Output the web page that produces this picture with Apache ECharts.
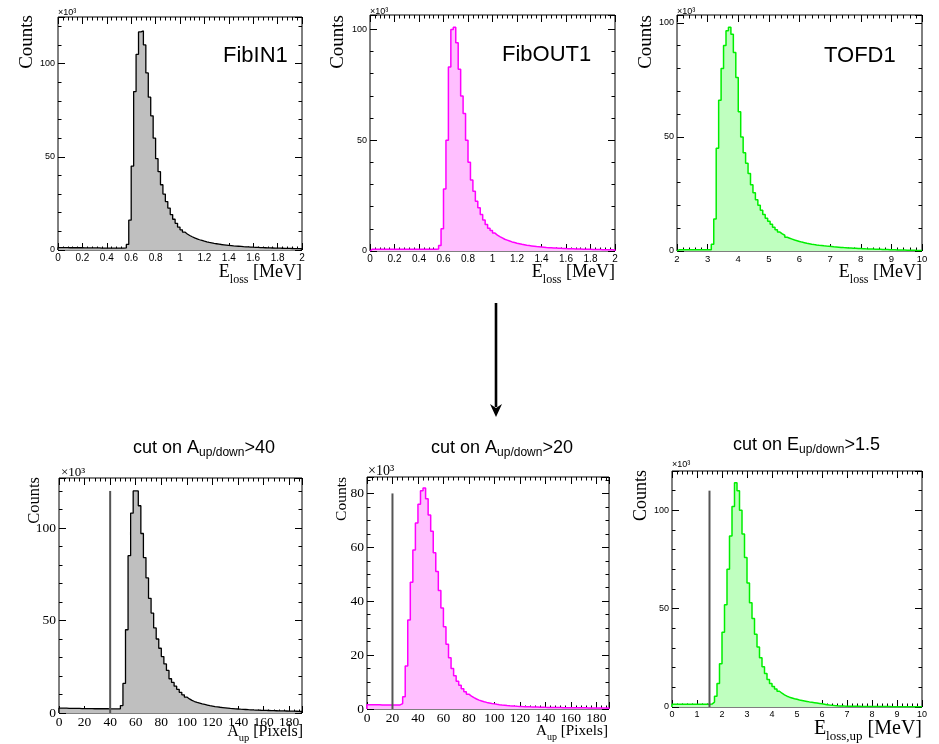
<!DOCTYPE html>
<html><head><meta charset="utf-8">
<script src="https://cdn.jsdelivr.net/npm/echarts@6/dist/echarts.min.js"></script>
<style>html,body{margin:0;padding:0;background:#fff}#c{width:939px;height:744px}</style>
</head><body><div id="c"></div>
<script>
// ---------------- DATA (counts in units of 10^3 per bin) ----------------
const fibInRange = [0, 2];
const fibInValues = [
 1.3,1.3,1.3,1.3,1.2,1.2,1.2,1.2,1.2,1.2,
 1.1,1.1,1.1,1.1,1.1,1.1,1.1,1.0,1.0,1.0,
 1.0,1.0,1.0,1.0,1.0,1.0,1.0,1.1,3,16,
 45,85,105,117,117.5,110,95,82,72,60,
 49,42,35,30,26,22.5,19,16.5,14.3,12.3,
 10.8,9.6,8.6,7.8,7.1,6.5,6.0,5.5,5.1,4.7,
 4.35,4.05,3.8,3.55,3.35,3.15,2.95,2.8,2.65,2.5,
 2.35,2.2,2.1,2.0,1.9,1.8,1.72,1.65,1.58,1.5,
 1.44,1.38,1.32,1.27,1.22,1.17,1.12,1.08,1.04,1.0,
 0.96,0.93,0.9,0.87,0.84,0.81,0.78,0.75,0.73,0.7];

const fibOutRange = [0, 2];
const fibOutValues = [
 0.8,0.8,0.8,0.8,0.8,0.8,0.8,0.8,0.8,0.8,
 0.8,0.8,0.8,0.8,0.8,0.8,0.8,0.8,0.8,0.8,
 0.8,0.8,0.8,0.8,0.8,0.8,0.8,0.9,2.5,10,
 28,50,83,100,101,94,82,70,62,50,
 40,32,27,22.5,19.5,16.5,14,12,10.3,9.2,
 8.1,7.2,6.5,5.9,5.3,4.9,4.5,4.1,3.8,3.5,
 3.25,3.0,2.8,2.6,2.45,2.3,2.15,2.0,1.9,1.8,
 1.7,1.6,1.52,1.45,1.38,1.32,1.26,1.2,1.15,1.1,
 1.06,1.02,0.98,0.94,0.9,0.87,0.84,0.81,0.78,0.75,
 0.72,0.69,0.66,0.63,0.6,0.58,0.56,0.54,0.52,0.5];

const tofdRange = [2, 10];
const tofdValues = [
 0.6,0.6,0.6,0.6,0.6,0.6,0.6,0.6,0.6,0.6,
 0.6,0.6,0.6,0.6,3,14,45,66,80,90,
 96.5,98,95,87,76,61,50,43,38.5,34,
 29,25.5,22.5,20,17.8,16,14.4,13,11.7,10.4,
 9.3,8.3,7.5,6.9,6.0,5.6,5.2,4.8,4.5,4.2,
 3.9,3.65,3.4,3.2,3.0,2.82,2.66,2.52,2.4,2.27,
 2.15,2.05,1.95,1.85,1.76,1.67,1.58,1.5,1.43,1.36,
 1.3,1.24,1.18,1.12,1.07,1.02,0.97,0.93,0.89,0.85,
 0.8,0.76,0.72,0.68,0.65,0.62,0.58,0.55,0.52,0.49,
 0.46,0.43,0.4,0.37,0.34,0.31,0.28,0.25,0.22,0.2];

const cutARange = [0, 190];
const cutAValues = [
 2.6,2.6,2.6,2.5,2.5,2.5,2.5,2.5,2.4,2.4,
 2.4,2.4,2.4,2.3,2.3,2.3,2.3,2.3,2.3,2.2,
 2.2,2.2,2.2,2.3,4,16,45,85,108,120,
 120,112,97,84,73,62,54,46,40,35,
 30.5,26.5,23,18.5,16.5,14.5,12.8,11.2,9.8,8.6,
 7.6,6.8,6.2,5.7,5.3,4.9,4.6,4.3,4.0,3.75,
 3.5,3.3,3.1,2.95,2.8,2.65,2.5,2.38,2.26,2.15,
 2.05,1.96,1.88,1.8,1.73,1.66,1.6,1.54,1.48,1.43,
 1.38,1.34,1.3,1.26,1.22,1.18,1.14,1.1,1.07,1.04,
 1.0,0.97,0.94,0.91,0.88];
const cutALine = [40, 120];

const cutBRange = [0, 190];
const cutBValues = [
 1.6,1.6,1.6,1.6,1.6,1.5,1.5,1.5,1.5,1.5,
 1.5,1.5,1.5,2,4.5,16,33,47,59,69,
 76,81,82,78,72,66,58,51,44,37.5,
 30.5,24,19,15,12.3,10.3,8.8,7.5,6.4,5.5,
 4.8,4.2,3.7,3.3,3.0,2.7,2.45,2.25,2.05,1.9,
 1.75,1.62,1.5,1.4,1.3,1.22,1.15,1.08,1.02,0.97,
 0.92,0.88,0.84,0.8,0.77,0.74,0.71,0.68,0.65,0.62,
 0.6,0.58,0.56,0.55,0.53,0.52,0.51,0.5,0.49,0.48,
 0.47,0.46,0.45,0.44,0.43,0.42,0.41,0.4,0.39,0.38,
 0.37,0.36,0.35,0.34,0.33];
const cutBLine = [20, 80];

const cutCRange = [0, 10];
const cutCValues = [
 1.4,1.4,1.4,1.4,1.4,1.4,1.4,1.4,1.4,1.4,
 1.4,1.4,1.4,1.4,1.4,1.5,2.5,5.5,12,22,
 38,52,70,87,102,114,110,100,88,76,
 63,53,45,37,30.5,25,20.5,17,14,12,
 10.4,9.1,8,7,6.2,5.5,5.0,4.6,4.2,3.9,
 3.6,3.35,3.1,2.85,2.6,2.4,2.2,2.0,1.8,1.6,
 1.4,1.2,1.0,0.85,0.72,0.62,0.55,0.5,0.46,0.43,
 0.4,0.38,0.36,0.34,0.32,0.3,0.29,0.28,0.27,0.26,
 0.25,0.24,0.23,0.22,0.21,0.2,0.2,0.19,0.19,0.18,
 0.18,0.17,0.17,0.16,0.16,0.15,0.15,0.15,0.14,0.14];
const cutCLine = [1.5, 110];

// ---------------- LAYOUT / STYLE ----------------
const SANS = '"Liberation Sans", Arial, sans-serif';
const SERIF = '"Liberation Serif", "Times New Roman", serif';
const GRAY_FILL = '#bfbfbf', MAG_FILL = '#ffbfff', GRN_FILL = '#bfffbf';

const panels = [
 {values: fibInValues, range: fibInRange, grid:{left:58, top:17, width:244, height:233}, yMax:125,
  xInt:0.2, xSplit:5, yInt:50, ySplit:5, font:SANS, xFs:10, yFs:9, xMargin:3, showMaxX:true,
  line:'#000000', lw:1.3, fill:GRAY_FILL},
 {values: fibOutValues, range: fibOutRange, grid:{left:370, top:15, width:245, height:236}, yMax:106.5,
  xInt:0.2, xSplit:5, yInt:50, ySplit:5, font:SANS, xFs:10, yFs:9, xMargin:3, showMaxX:true,
  line:'#ff00ff', lw:1.5, fill:MAG_FILL},
 {values: tofdValues, range: tofdRange, grid:{left:677, top:15, width:245, height:236}, yMax:103.4,
  xInt:1, xSplit:5, yInt:50, ySplit:5, font:SANS, xFs:9.5, yFs:9, xMargin:3, showMaxX:true,
  line:'#00ee00', lw:1.5, fill:GRN_FILL},
 {values: cutAValues, range: cutARange, cut: cutALine, grid:{left:59, top:478, width:243, height:235}, yMax:127,
  xInt:20, xSplit:5, yInt:50, ySplit:5, font:SERIF, xFs:13.5, yFs:13.5, xMargin:2, showMaxX:false,
  line:'#000000', lw:1.3, fill:GRAY_FILL},
 {values: cutBValues, range: cutBRange, cut: cutBLine, grid:{left:367, top:477, width:242, height:232}, yMax:86.1,
  xInt:20, xSplit:5, yInt:20, ySplit:4, font:SERIF, xFs:13.5, yFs:13.5, xMargin:2, showMaxX:false,
  line:'#ff00ff', lw:1.5, fill:MAG_FILL},
 {values: cutCValues, range: cutCRange, cut: cutCLine, grid:{left:672, top:471, width:250, height:236}, yMax:120,
  xInt:1, xSplit:5, yInt:50, ySplit:5, font:SANS, xFs:9, yFs:9, xMargin:3, showMaxX:true,
  line:'#00ee00', lw:1.5, fill:GRN_FILL}
];

function histData(values, min, width) {
  const d = [[min, 0]];
  values.forEach((v, i) => d.push([min + i * width, v]));
  d.push([min + values.length * width, values[values.length - 1]]);
  d.push([min + values.length * width, 0]);
  return d;
}

const option = {animation:false, backgroundColor:'#ffffff', textStyle:{fontFamily:SANS},
  grid:[], xAxis:[], yAxis:[], series:[], graphic:{elements:[]}};

panels.forEach((p, i) => {
  option.grid.push(Object.assign({}, p.grid, {show:true, borderColor:'#000', borderWidth:1, backgroundColor:'transparent'}));
  const mk = (len) => ({show:true, inside:true, length:len, lineStyle:{color:'#000', width:1}});
  const mn = (n) => ({show:true, splitNumber:n, length:3.5, lineStyle:{color:'#000', width:1}});
  const xBase = {type:'value', gridIndex:i, min:p.range[0], max:p.range[1], interval:p.xInt,
    axisLine:{show:false, onZero:false}, splitLine:{show:false}, minorSplitLine:{show:false},
    axisTick:mk(7), minorTick:mn(p.xSplit)};
  option.xAxis.push(Object.assign({}, xBase, {position:'bottom',
    axisLabel:{show:true, margin:p.xMargin, color:'#000', fontFamily:p.font, fontSize:p.xFs, showMinLabel:true, showMaxLabel:p.showMaxX}}));
  option.xAxis.push(Object.assign({}, xBase, {position:'top', axisLabel:{show:false}}));
  const yBase = {type:'value', gridIndex:i, min:0, max:p.yMax, interval:p.yInt,
    axisLine:{show:false, onZero:false}, splitLine:{show:false}, minorSplitLine:{show:false},
    axisTick:mk(7), minorTick:mn(p.ySplit)};
  option.yAxis.push(Object.assign({}, yBase, {position:'left',
    axisLabel:{show:true, margin:3, color:'#000', fontFamily:p.font, fontSize:p.yFs, showMinLabel:true, showMaxLabel:false}}));
  option.yAxis.push(Object.assign({}, yBase, {position:'right', axisLabel:{show:false}}));
  const w = (p.range[1] - p.range[0]) / p.values.length;
  option.series.push({type:'line', xAxisIndex:2*i, yAxisIndex:2*i, data:histData(p.values, p.range[0], w),
    step:'end', symbol:'none', showSymbol:false, lineStyle:{color:p.line, width:p.lw},
    areaStyle:{color:p.fill, opacity:1}, z:2, silent:true});
  if (p.cut) {
    option.series.push({type:'line', xAxisIndex:2*i, yAxisIndex:2*i,
      data:[[p.cut[0], 0], [p.cut[0], p.cut[1]]], symbol:'none', showSymbol:false,
      lineStyle:{color:'#555555', width:2}, z:3, silent:true});
  }
});

// ---------------- TEXT / DECORATION ----------------
const G = option.graphic.elements;
function txt(x, y, text, font, align, extra) {
  G.push(Object.assign({type:'text', x:x, y:y, silent:true, z:100,
    style:{text:text, font:font, fill:'#000', textAlign:align||'left', textVerticalAlign:'middle'}}, extra||{}));
}
function rich(x, y, parts, mainFont, subFont, mainLH, subH, align) {
  const t = parts.map(pp => '{' + (pp[1] ? 's' : 'm') + '|' + pp[0] + '}').join('');
  G.push({type:'text', x:x, y:y, silent:true, z:100,
    style:{text:t, fill:'#000', textAlign:align, textVerticalAlign:'middle',
      rich:{m:{font:mainFont, lineHeight:mainLH, fill:'#000'},
            s:{font:subFont, height:subH, verticalAlign:'bottom', fill:'#000'}}}});
}
// Panel titles
txt(223, 56, 'FibIN1', '22px ' + SANS);
txt(502, 55, 'FibOUT1', '22px ' + SANS);
txt(824, 55.5, 'TOFD1', '22px ' + SANS);
rich(133, 448, [['cut on A'], ['up/down', 1], ['>40']], '18px ' + SANS, '12px ' + SANS, 22, 13, 'left');
rich(431, 448, [['cut on A'], ['up/down', 1], ['>20']], '18px ' + SANS, '12px ' + SANS, 22, 13, 'left');
rich(733, 445, [['cut on E'], ['up/down', 1], ['>1.5']], '18px ' + SANS, '12px ' + SANS, 22, 13, 'left');
// x10^3 multipliers
txt(58, 13, '×10³', '9px ' + SANS);
txt(370, 11.5, '×10³', '9px ' + SANS);
txt(677, 12, '×10³', '9px ' + SANS);
txt(61, 473, '×10³', '13px ' + SERIF);
txt(368, 471, '×10³', '14px ' + SERIF);
txt(672, 465, '×10³', '9px ' + SANS);
// y titles
const rot = {rotation: Math.PI / 2};
txt(27, 15, 'Counts', '19px ' + SERIF, 'right', rot);
txt(338, 15, 'Counts', '19px ' + SERIF, 'right', rot);
txt(646, 15, 'Counts', '19px ' + SERIF, 'right', rot);
txt(35, 477, 'Counts', '16.5px ' + SERIF, 'right', rot);
txt(342, 477, 'Counts', '15.5px ' + SERIF, 'right', rot);
txt(641, 470, 'Counts', '18px ' + SERIF, 'right', rot);
// x titles
rich(302, 272.5, [['E'], ['loss', 1], [' [MeV]']], '18px ' + SERIF, '12px ' + SERIF, 22, 8, 'right');
rich(615, 272.5, [['E'], ['loss', 1], [' [MeV]']], '18px ' + SERIF, '12px ' + SERIF, 22, 8, 'right');
rich(922, 272.5, [['E'], ['loss', 1], [' [MeV]']], '18px ' + SERIF, '12px ' + SERIF, 22, 8, 'right');
rich(303, 732, [['A'], ['up', 1], [' [Pixels]']], '16px ' + SERIF, '10.5px ' + SERIF, 20, 7, 'right');
rich(608, 731.3, [['A'], ['up', 1], [' [Pixels]']], '15.2px ' + SERIF, '10px ' + SERIF, 19, 7, 'right');
rich(922, 729, [['E'], ['loss,up', 1], [' [MeV]']], '20px ' + SERIF, '13px ' + SERIF, 24, 9, 'right');
// arrow
G.push({type:'line', silent:true, z:100, shape:{x1:496, y1:303, x2:496, y2:407}, style:{stroke:'#000', lineWidth:2.6}});
G.push({type:'polygon', silent:true, z:100, shape:{points:[[490,404],[496,408],[502,404],[496,417]]}, style:{fill:'#000'}});

const chart = echarts.init(document.getElementById('c'), null, {renderer:'canvas'});
chart.setOption(option);
</script>
</body></html>
